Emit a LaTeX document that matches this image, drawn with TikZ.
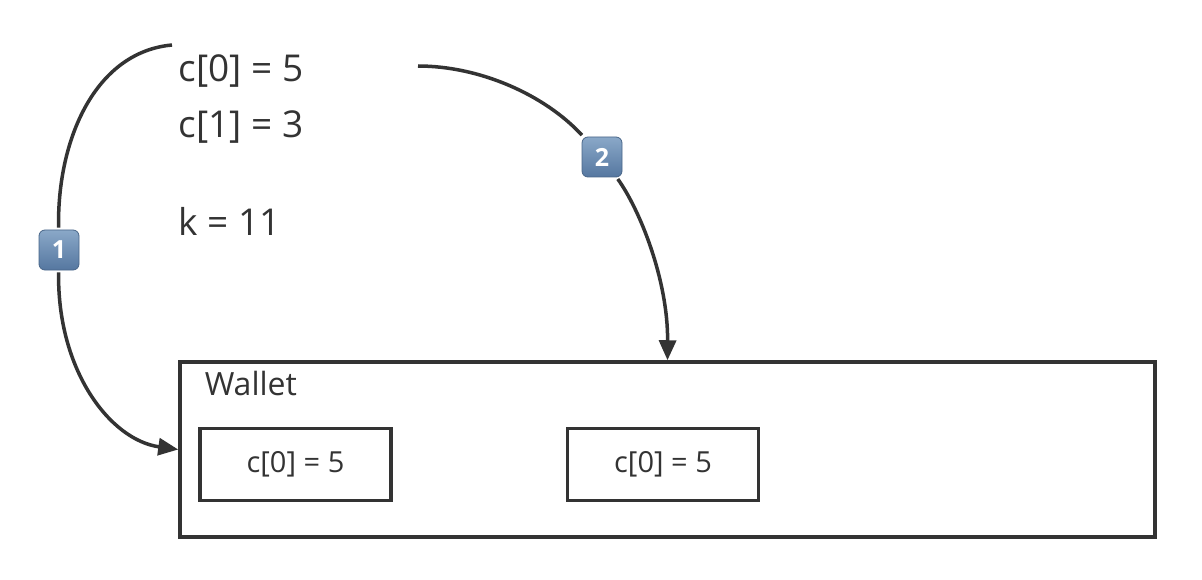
\documentclass[tikz,border=0pt]{standalone}
\usepackage{fontspec}
\setmainfont{Open Sans}
\usetikzlibrary{arrows.meta}
\definecolor{ink}{HTML}{333333}
\definecolor{badgetop}{HTML}{8AA8C8}
\definecolor{badgebot}{HTML}{5577A0}
\begin{document}
\begin{tikzpicture}[x=1pt,y=-1pt,
  line width=3.5pt,
  conn/.style={draw=ink, line width=3.5pt},
  tip/.style={-{Triangle[length=20pt,width=17pt]}},
  badge/.style={rounded corners=6pt, top color=badgetop, bottom color=badgebot,
    draw=badgebot!85!black, line width=0.8pt, minimum width=40pt, minimum height=40pt,
    inner sep=0pt, text=white, font=\fontsize{25}{25}\selectfont\bfseries},
  bigtext/.style={anchor=base west, inner sep=0pt, text=ink, font=\fontsize{37}{40}\selectfont},
  cell/.style={draw=ink, line width=3.5pt, minimum width=191pt, minimum height=72pt,
    inner sep=0pt, text=ink, font=\fontsize{29}{30}\selectfont},
  walletbox/.style={draw=ink, line width=3.5pt, minimum width=975pt, minimum height=175pt, inner sep=0pt}
]
\useasboundingbox (0,0) rectangle (1202,580);
% texts
\node[bigtext] (t0) at (177,82) {c[0] = 5};
\node[bigtext] (t1) at (177,138) {c[1] = 3};
\node[bigtext] (tk) at (177,236) {k = 11};
% wallet
\node[walletbox] (wallet) at (667.5,449.5) {};
\node[anchor=base west, inner sep=0pt, text=ink, font=\fontsize{32}{34}\selectfont] (wl) at (203,395) {Wallet};
\node[cell] (c1) at (295.5,464.5) {c[0] = 5};
\node[cell] (c2) at (663,464.5) {c[0] = 5};
% badges
\node[badge] (b1) at (59,250) {1};
\node[badge] (b2) at (602,157) {2};
% connectors
\coordinate (s1) at (172,45);
\coordinate (s2) at (418,66);
\draw[conn, shorten >=2pt] (s1) .. controls (95,52) and (57,140) .. (b1);
\draw[conn, tip, shorten <=2pt] (b1) .. controls (57,370) and (110,440) .. (wallet.west);
\draw[conn, shorten >=2pt] (s2) .. controls (480,66) and (545,95) .. (b2);
\draw[conn, tip, shorten <=2pt] (b2) .. controls (640,210) and (668,280) .. (wallet.north);
\end{tikzpicture}
\end{document}
